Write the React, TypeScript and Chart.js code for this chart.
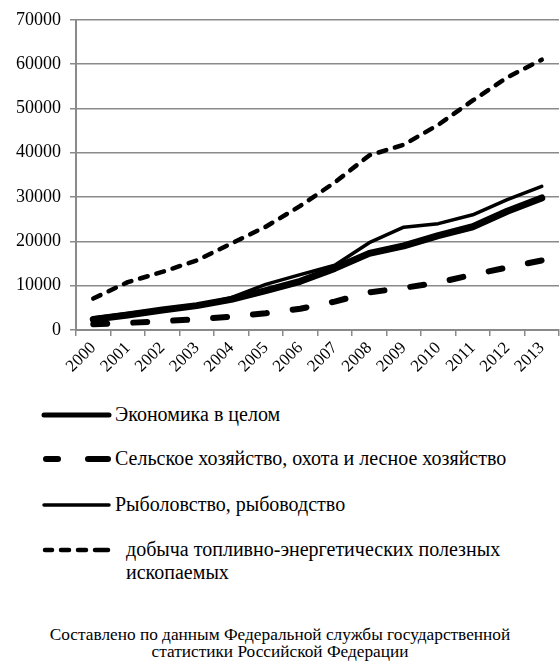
import React, { useEffect, useRef } from 'react';
import { Chart, registerables } from 'chart.js';

Chart.register(...registerables);

const years = ['2000', '2001', '2002', '2003', '2004', '2005', '2006', '2007', '2008', '2009', '2010', '2011', '2012', '2013'];
const economy = [2400, 3400, 4500, 5500, 6900, 8900, 11000, 13900, 17300, 19000, 21300, 23300, 26800, 29800];
const agriculture = [1300, 1600, 2000, 2400, 3000, 3800, 4800, 6400, 8500, 9500, 10700, 12500, 14100, 15700];
const fishing = [2700, 3700, 4700, 5600, 7300, 10300, 12500, 14600, 19700, 23200, 24000, 26000, 29400, 32400];
const mining = [7100, 10800, 13100, 15700, 19500, 23300, 28000, 33300, 39400, 41800, 46300, 51800, 57000, 61000];

const seriesNames = [
  'Экономика в целом',
  'Сельское хозяйство, охота и лесное хозяйство',
  'Рыболовство, рыбоводство',
  'добыча топливно-энергетических полезных ископаемых',
];
const yMin = 0;
const yMax = 70000;
const yStep = 10000;
const sourceLines = [
  'Составлено по данным Федеральной службы государственной',
  'статистики Российской Федерации',
];

const FONT = '"Liberation Serif", serif';

function LegendSample({ kind }: { kind: number }) {
  const common = { stroke: '#000', strokeLinecap: 'round' as const };
  return (
    <svg width={80} height={12} style={{ position: 'absolute', left: 38, top: -6 }}>
      {kind === 0 && <line x1={6} y1={6} x2={71} y2={6} strokeWidth={5} {...common} />}
      {kind === 1 && (
        <>
          <line x1={8} y1={6} x2={20} y2={6} strokeWidth={6} {...common} />
          <line x1={50} y1={6} x2={70} y2={6} strokeWidth={6} {...common} />
        </>
      )}
      {kind === 2 && <line x1={6} y1={6} x2={71} y2={6} strokeWidth={3.5} {...common} />}
      {kind === 3 && (
        <>
          <line x1={7} y1={6} x2={14} y2={6} strokeWidth={4.5} {...common} />
          <line x1={23} y1={6} x2={31} y2={6} strokeWidth={4.5} {...common} />
          <line x1={40} y1={6} x2={48} y2={6} strokeWidth={4.5} {...common} />
          <line x1={57} y1={6} x2={70} y2={6} strokeWidth={4.5} {...common} />
        </>
      )}
    </svg>
  );
}

export default function App() {
  const ref = useRef<HTMLCanvasElement>(null);

  useEffect(() => {
    const chart = new Chart(ref.current!, {
      type: 'line',
      data: {
        labels: years,
        datasets: [
          {
            label: seriesNames[0],
            data: economy,
            borderColor: '#000',
            borderWidth: 7,
            pointRadius: 0,
            borderCapStyle: 'round',
            borderJoinStyle: 'round',
            tension: 0,
          },
          {
            label: seriesNames[1],
            data: agriculture,
            borderColor: '#000',
            borderWidth: 6,
            borderDash: [14, 26],
            pointRadius: 0,
            borderCapStyle: 'round',
            borderJoinStyle: 'round',
            tension: 0,
          },
          {
            label: seriesNames[2],
            data: fishing,
            borderColor: '#000',
            borderWidth: 3.5,
            pointRadius: 0,
            borderCapStyle: 'round',
            borderJoinStyle: 'round',
            tension: 0,
          },
          {
            label: seriesNames[3],
            data: mining,
            borderColor: '#000',
            borderWidth: 4.5,
            borderDash: [8, 9],
            pointRadius: 0,
            borderCapStyle: 'round',
            borderJoinStyle: 'round',
            tension: 0,
          },
        ],
      },
      options: {
        responsive: false,
        animation: false,
        layout: { padding: { top: 16, right: 1, left: 0, bottom: 0 } },
        plugins: { legend: { display: false }, tooltip: { enabled: false } },
        scales: {
          x: {
            offset: true,
            grid: {
              offset: true,
              drawOnChartArea: false,
              drawTicks: true,
              tickLength: 6,
              color: '#8a8a8a',
              lineWidth: 1.5,
            },
            border: { color: '#8a8a8a', width: 2 },
            ticks: {
              minRotation: 45,
              maxRotation: 45,
              color: '#000',
              font: { family: FONT, size: 17 },
              padding: 2,
              autoSkip: false,
            },
            afterFit: (s: any) => {
              s.height = 45;
            },
          },
          y: {
            min: yMin,
            max: yMax,
            ticks: {
              stepSize: yStep,
              callback: (v: any) => String(v),
              color: '#000',
              font: { family: FONT, size: 18 },
              padding: 9,
            },
            grid: { color: '#8a8a8a', lineWidth: 1.5, tickLength: 6 },
            border: { color: '#8a8a8a', width: 2 },
            afterFit: (s: any) => {
              s.width = 76;
            },
          },
        },
      },
    });
    return () => chart.destroy();
  }, []);

  const legendTops = [415, 459, 505, 550];

  return (
    <div
      style={{
        position: 'absolute',
        left: 0,
        top: 0,
        width: 560,
        height: 672,
        background: '#fff',
        fontFamily: FONT,
        color: '#000',
      }}
    >
      <canvas ref={ref} width={560} height={375} style={{ position: 'absolute', left: 0, top: 0 }} />
      {seriesNames.map((name, i) => (
        <div key={i} style={{ position: 'absolute', left: 0, top: legendTops[i], width: 560 }}>
          <LegendSample kind={i} />
          <div
            style={{
              position: 'absolute',
              left: i === 3 ? 126 : 115,
              top: -12,
              width: i === 3 ? 400 : 440,
              fontSize: 20,
              lineHeight: '23px',
              whiteSpace: i === 3 ? 'normal' : 'nowrap',
            }}
          >
            {name}
          </div>
        </div>
      ))}
      <div
        style={{
          position: 'absolute',
          left: 0,
          top: 626,
          width: 560,
          textAlign: 'center',
          fontSize: 17.3,
          lineHeight: '17px',
        }}
      >
        {sourceLines.map((l, i) => (
          <div key={i}>{l}</div>
        ))}
      </div>
    </div>
  );
}
